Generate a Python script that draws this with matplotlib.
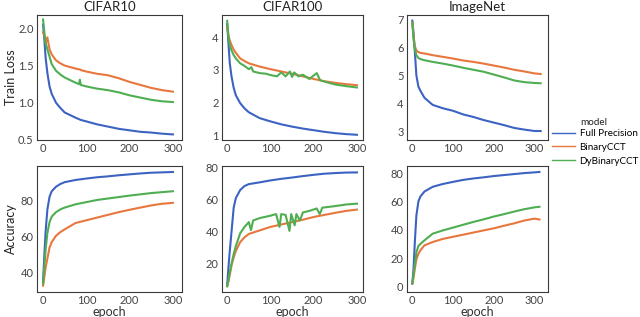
from __future__ import annotations

import matplotlib

matplotlib.use("Agg")
import matplotlib.pyplot as plt
from matplotlib.lines import Line2D

SERIES = ["Full Precision", "BinaryCCT", "DyBinaryCCT"]
COLORS = ["#3d63c2", "#e8773d", "#4fae52"]

# CIFAR10 train loss
c10_loss_ep = [0, 3, 6, 10, 15, 20, 30, 40, 50, 75, 83, 85, 87, 100, 125, 150, 175, 200, 225, 250, 275, 300]
c10_loss_fp = [2.05, 1.85, 1.6, 1.4, 1.22, 1.12, 1.0, 0.93, 0.87, 0.8, 0.78, 0.775, 0.77, 0.75, 0.71, 0.68, 0.65, 0.63, 0.61, 0.6, 0.585, 0.575]
c10_loss_bin = [1.95, 1.9, 1.8, 1.88, 1.72, 1.65, 1.57, 1.53, 1.5, 1.46, 1.45, 1.45, 1.44, 1.42, 1.39, 1.37, 1.33, 1.28, 1.24, 1.2, 1.17, 1.15]
c10_loss_dy = [2.12, 1.95, 1.8, 1.72, 1.62, 1.52, 1.43, 1.38, 1.34, 1.27, 1.25, 1.31, 1.24, 1.22, 1.19, 1.17, 1.14, 1.1, 1.07, 1.04, 1.02, 1.01]

# CIFAR100 train loss
c100_loss_ep = [0, 3, 6, 10, 15, 20, 30, 40, 50, 75, 100, 125, 150, 175, 200, 225, 250, 275, 300]
c100_loss_fp = [4.4, 3.8, 3.2, 2.8, 2.45, 2.22, 1.98, 1.82, 1.7, 1.52, 1.42, 1.33, 1.26, 1.2, 1.15, 1.1, 1.06, 1.03, 1.01]
c100_loss_bin = [4.3, 4.05, 3.9, 3.76, 3.62, 3.52, 3.35, 3.27, 3.2, 3.1, 3.02, 2.95, 2.88, 2.8, 2.72, 2.65, 2.6, 2.56, 2.53]
c100_loss_dy_ep = [0, 3, 6, 10, 15, 20, 30, 40, 50, 56, 60, 75, 90, 100, 115, 125, 135, 145, 150, 155, 165, 175, 190, 207, 215, 230, 250, 275, 300]
c100_loss_dy = [4.5, 4.0, 3.75, 3.6, 3.45, 3.35, 3.2, 3.12, 3.02, 3.08, 2.95, 2.9, 2.88, 2.84, 2.8, 2.92, 2.8, 2.95, 2.78, 2.92, 2.8, 2.85, 2.72, 2.9, 2.68, 2.62, 2.55, 2.5, 2.46]

# ImageNet train loss
in_loss_ep = [0, 3, 6, 10, 15, 20, 30, 50, 75, 100, 125, 150, 175, 200, 225, 250, 275, 300, 315]
in_loss_fp = [6.95, 6.5, 5.9, 5.0, 4.6, 4.45, 4.2, 3.95, 3.83, 3.74, 3.61, 3.52, 3.41, 3.32, 3.23, 3.13, 3.07, 3.02, 3.02]
in_loss_bin = [6.9, 6.4, 6.05, 5.88, 5.83, 5.8, 5.78, 5.72, 5.66, 5.6, 5.53, 5.48, 5.42, 5.35, 5.28, 5.2, 5.14, 5.07, 5.05]
in_loss_dy = [6.9, 6.3, 5.95, 5.72, 5.62, 5.58, 5.54, 5.48, 5.42, 5.35, 5.27, 5.2, 5.13, 5.03, 4.93, 4.82, 4.76, 4.73, 4.72]

# CIFAR10 accuracy
c10_acc_ep = [0, 3, 6, 10, 15, 20, 30, 40, 50, 75, 100, 125, 150, 175, 200, 225, 250, 275, 300]
c10_acc_fp = [35, 50, 63, 75, 82, 85, 87.5, 89, 90, 91.2, 92, 92.7, 93.2, 93.8, 94.3, 94.8, 95.2, 95.4, 95.6]
c10_acc_bin = [33, 38, 43, 48, 54, 57, 60.5, 62.5, 64, 67.5, 69, 70.5, 72, 73.5, 74.8, 76, 77.2, 78.1, 78.6]
c10_acc_dy = [34, 44, 53, 62, 68, 71, 73.5, 75, 76, 77.8, 79, 80.2, 81, 81.8, 82.6, 83.3, 84, 84.5, 85]

# CIFAR100 accuracy
c100_acc_ep = [0, 3, 6, 10, 15, 20, 30, 40, 50, 75, 100, 125, 150, 175, 200, 225, 250, 275, 300]
c100_acc_fp = [7, 18, 28, 40, 55, 61, 66, 68.5, 69.7, 70.8, 72, 73, 73.8, 74.7, 75.5, 76.2, 76.6, 76.9, 77]
c100_acc_bin = [6, 9, 13, 19, 24, 28, 33.5, 36.5, 38.6, 40.8, 43, 44.5, 46, 47.5, 49.2, 50.5, 51.8, 53, 53.8]
c100_acc_dy_ep = [0, 3, 6, 10, 15, 20, 30, 40, 50, 55, 60, 75, 100, 113, 121, 125, 135, 144, 148, 156, 160, 168, 175, 190, 207, 214, 220, 250, 275, 300]
c100_acc_dy = [6, 10, 15, 20, 26, 31, 39, 43, 46, 41, 47, 48.5, 50, 51, 43, 51, 50.5, 40.5, 51, 44, 51, 47, 52, 53, 54.5, 51, 55, 56, 57, 57.5]

# ImageNet accuracy
in_acc_ep = [0, 3, 6, 10, 15, 20, 30, 50, 75, 100, 125, 150, 175, 200, 225, 250, 275, 300, 312]
in_acc_fp = [2, 12, 30, 50, 60, 63.5, 67, 70.3, 72.3, 73.8, 75.2, 76.2, 77, 77.9, 78.6, 79.3, 80, 80.5, 80.8]
in_acc_bin = [2, 6, 12, 19, 23, 25.5, 29, 31.3, 33.5, 35, 36.5, 38, 39.5, 41, 42.8, 44.5, 46.5, 47.8, 47.2]
in_acc_dy = [2, 8, 15, 24, 28.5, 30, 32.5, 37.2, 39.5, 41.5, 43.5, 45.5, 47.3, 49.3, 51, 52.8, 54.5, 55.8, 56.2]

FONT = "Lato"
W, H = 640, 317


def _axes(fig, left, top, right, bottom):
    ax = fig.add_axes([left / W, 1 - bottom / H, (right - left) / W, (bottom - top) / H])
    for spine in ax.spines.values():
        spine.set_color("#3a3a3a")
        spine.set_linewidth(0.8)
    ax.tick_params(length=0, labelsize=8, labelcolor="#444444", pad=2.5)
    return ax


def _draw(ax, curves):
    for (ep, vals), color in zip(curves, COLORS):
        ax.plot(ep, vals, color=color, lw=1.5)


def main() -> None:
    plt.rcParams["font.family"] = FONT
    fig = plt.figure(figsize=(6.4, 3.17), dpi=100)

    cols = [(37, 182), (222, 363), (407, 548)]
    top_row = (15, 140)
    bot_row = (166, 292)

    loss_curves = [
        [(c10_loss_ep, c10_loss_fp), (c10_loss_ep, c10_loss_bin), (c10_loss_ep, c10_loss_dy)],
        [(c100_loss_ep, c100_loss_fp), (c100_loss_ep, c100_loss_bin), (c100_loss_dy_ep, c100_loss_dy)],
        [(in_loss_ep, in_loss_fp), (in_loss_ep, in_loss_bin), (in_loss_ep, in_loss_dy)],
    ]
    acc_curves = [
        [(c10_acc_ep, c10_acc_fp), (c10_acc_ep, c10_acc_bin), (c10_acc_ep, c10_acc_dy)],
        [(c100_acc_ep, c100_acc_fp), (c100_acc_ep, c100_acc_bin), (c100_acc_dy_ep, c100_acc_dy)],
        [(in_acc_ep, in_acc_fp), (in_acc_ep, in_acc_bin), (in_acc_ep, in_acc_dy)],
    ]
    titles = ["CIFAR10", "CIFAR100", "ImageNet"]
    loss_ylim = [(0.5, 2.18), (0.85, 4.68), (2.7, 7.15)]
    loss_yticks = [[0.5, 1.0, 1.5, 2.0], [1, 2, 3, 4], [3, 4, 5, 6, 7]]
    acc_ylim = [(29.5, 98.9), (2.4, 81), (-4, 85)]
    acc_yticks = [[40, 60, 80], [20, 40, 60, 80], [0, 20, 40, 60, 80]]
    xlims = [(-14, 321), (-12, 314), (-13, 333)]

    for i, (left, right) in enumerate(cols):
        ax = _axes(fig, left, top_row[0], right, top_row[1])
        _draw(ax, loss_curves[i])
        ax.set_xlim(*xlims[i])
        ax.set_ylim(*loss_ylim[i])
        ax.set_xticks([0, 100, 200, 300])
        ax.set_yticks(loss_yticks[i])
        if i == 0:
            ax.set_yticklabels([f"{t:.1f}" for t in loss_yticks[i]])
            ax.set_ylabel("Train Loss", fontsize=9, color="#222222")
            ax.yaxis.set_label_coords(-0.14, 0.5)
        ax.set_title(titles[i], fontsize=9.5, color="#222222", pad=3)

        ax = _axes(fig, left, bot_row[0], right, bot_row[1])
        _draw(ax, acc_curves[i])
        ax.set_xlim(*xlims[i])
        ax.set_ylim(*acc_ylim[i])
        ax.set_xticks([0, 100, 200, 300])
        ax.set_yticks(acc_yticks[i])
        ax.set_xlabel("epoch", fontsize=9, color="#333333")
        ax.xaxis.set_label_coords(0.5, -0.11)
        if i == 0:
            ax.set_ylabel("Accuracy", fontsize=9, color="#222222")
            ax.yaxis.set_label_coords(-0.14, 0.5)

    handles = [Line2D([], [], color=c, lw=1.0) for c in COLORS]
    fig.legend(
        handles,
        SERIES,
        loc="upper left",
        bbox_to_anchor=(552 / W, 1 - 129 / H),
        frameon=False,
        fontsize=7.1,
        handlelength=2.3,
        labelspacing=0.5,
        borderpad=0,
        borderaxespad=0,
        handletextpad=0.5,
    )
    fig.text(580 / W, 1 - 122 / H, "model", fontsize=7.1, color="#222222", va="center", ha="left")
    fig.savefig("out.png", dpi=100)
    plt.close(fig)


if __name__ == "__main__":
    main()
